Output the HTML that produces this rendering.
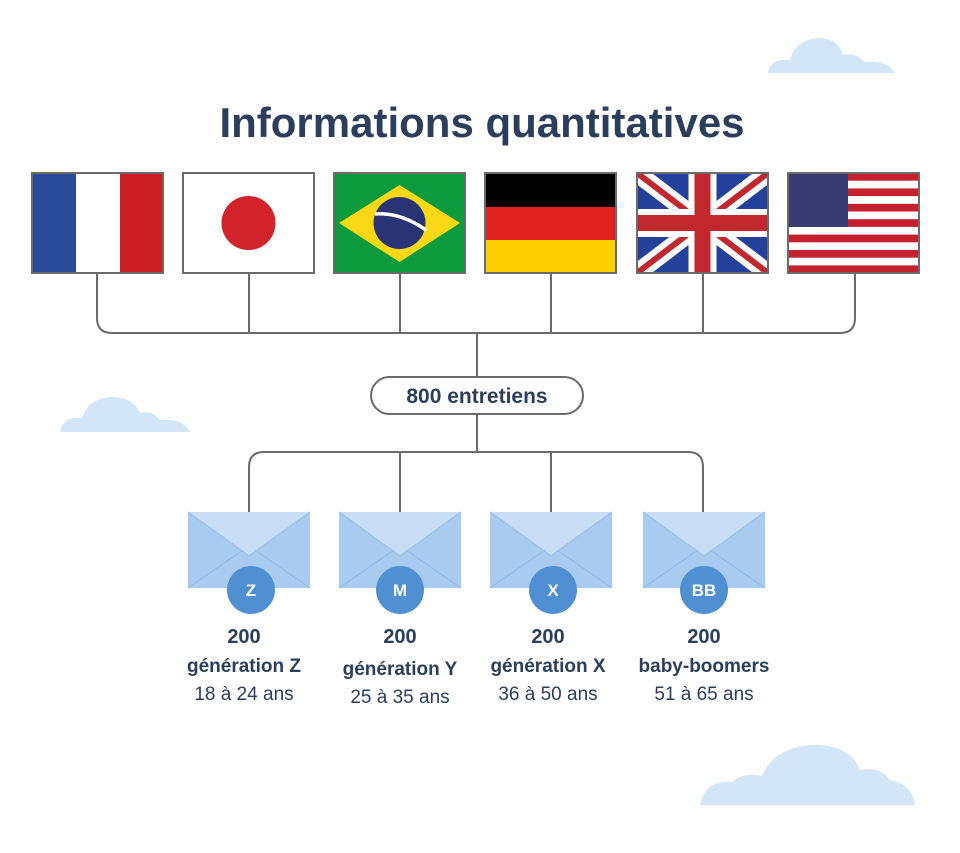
<!DOCTYPE html>
<html><head><meta charset="utf-8"><style>
html,body{margin:0;padding:0;background:#fff}
svg{display:block}
text{font-family:"Liberation Sans",sans-serif;fill:#2b3f5c}
</style></head><body>
<svg width="960" height="853" viewBox="0 0 960 853" xmlns="http://www.w3.org/2000/svg">
<defs>
<clipPath id="uk"><rect x="637" y="173" width="131" height="100"/></clipPath>
<g id="env">
<rect x="0" y="0" width="122" height="76" fill="#a9cbef"/>
<path d="M0 0 L61 44 L122 0 Z" fill="#c8def6"/>
<path d="M0 76 L55 38 M122 76 L67 38" stroke="#8fb8e6" stroke-width="1" fill="none"/>
<path d="M0 0 L61 44 L122 0" stroke="#9fc3ec" stroke-width="1.5" fill="none"/>
</g>
</defs>

<path d="M768 73 Q770 58 790 60 Q795 40 818 38 Q838 38 843 55 Q856 52 864 62 Q888 60 895 73 Z" fill="#d3e6f7"/>
<path d="M60 432 Q63 416 82 418 Q88 398 112 397 Q133 397 140 413 Q152 410 160 420 Q183 418 190 432 Z" fill="#d3e6f7"/>
<path d="M700 805 Q704 780 732 782 Q742 772 762 776 Q775 746 815 745 Q850 745 860 770 Q880 766 890 780 Q912 784 915 805 Z" fill="#d3e6f7"/>

<text x="482" y="137" font-size="42" font-weight="bold" text-anchor="middle">Informations quantitatives</text>

<g stroke="#6b6b6b" stroke-width="2" fill="none">
<path d="M97 273 V318 Q97 333 112 333 H840 Q855 333 855 318 V273"/>
<path d="M249 273 V333 M400 273 V333 M551 273 V333 M703 273 V333"/>
<path d="M477 333 V377 M477 414 V452"/>
<path d="M249 512 V467 Q249 452 264 452 H688 Q703 452 703 467 V512"/>
<path d="M400 452 V512 M551 452 V512"/>
</g>
<rect x="371" y="377" width="212" height="37" rx="18.5" fill="#fff" stroke="#6b6b6b" stroke-width="2"/>
<text x="477" y="403" font-size="21" font-weight="bold" text-anchor="middle">800 entretiens</text>

<rect x="32" y="173" width="44" height="100" fill="#2a4a9a"/>
<rect x="76" y="173" width="44" height="100" fill="#fff"/>
<rect x="120" y="173" width="43" height="100" fill="#cc1f24"/>
<rect x="32" y="173" width="131" height="100" fill="none" stroke="#6b6b6b" stroke-width="2"/>
<rect x="183" y="173" width="131" height="100" fill="#fff" stroke="#6b6b6b" stroke-width="2"/>
<circle cx="248.5" cy="223" r="27" fill="#d2232a"/>
<rect x="334" y="173" width="131" height="100" fill="#0c9a3c"/>
<path d="M339 223 L399.5 185 L460 223 L399.5 262 Z" fill="#fbd816"/>
<circle cx="399.5" cy="223" r="26" fill="#2a3475"/>
<path d="M375 214 Q400 212 426 230" stroke="#fff" stroke-width="3.5" fill="none"/>
<rect x="334" y="173" width="131" height="100" fill="none" stroke="#6b6b6b" stroke-width="2"/>
<rect x="485" y="173" width="131" height="34" fill="#000"/>
<rect x="485" y="207" width="131" height="33" fill="#e02321"/>
<rect x="485" y="240" width="131" height="33" fill="#ffcf00"/>
<rect x="485" y="173" width="131" height="100" fill="none" stroke="#6b6b6b" stroke-width="2"/>
<g clip-path="url(#uk)">
<rect x="637" y="173" width="131" height="100" fill="#23409a"/>
<path d="M637 173 L768 273 M768 173 L637 273" stroke="#fff" stroke-width="18"/>
<path d="M637 173 L768 273 M768 173 L637 273" stroke="#c0282d" stroke-width="6"/>
<path d="M702.5 173 V273 M637 223 H768" stroke="#fff" stroke-width="28"/>
<path d="M702.5 173 V273 M637 223 H768" stroke="#c0282d" stroke-width="16"/>
</g>
<rect x="637" y="173" width="131" height="100" fill="none" stroke="#6b6b6b" stroke-width="2"/>
<rect x="788" y="173" width="131" height="100" fill="#fff"/>
<g fill="#c5202e">
<rect x="788" y="173" width="131" height="7.7"/>
<rect x="788" y="188.4" width="131" height="7.7"/>
<rect x="788" y="203.8" width="131" height="7.7"/>
<rect x="788" y="219.2" width="131" height="7.7"/>
<rect x="788" y="234.6" width="131" height="7.7"/>
<rect x="788" y="250" width="131" height="7.7"/>
<rect x="788" y="265.4" width="131" height="7.7"/>
</g>
<rect x="788" y="173" width="60" height="54" fill="#3b3b74"/>
<rect x="788" y="173" width="131" height="100" fill="none" stroke="#6b6b6b" stroke-width="2"/>

<use href="#env" x="188" y="512"/>
<use href="#env" x="339" y="512"/>
<use href="#env" x="490" y="512"/>
<use href="#env" x="643" y="512"/>
<g fill="#4f8fd2">
<circle cx="251" cy="590" r="24"/>
<circle cx="400" cy="590" r="24"/>
<circle cx="553" cy="590" r="24"/>
<circle cx="704" cy="590" r="24"/>
</g>
<g font-size="17" font-weight="bold" text-anchor="middle">
<text x="251" y="596" style="fill:#fff">Z</text>
<text x="400" y="596" style="fill:#fff">M</text>
<text x="553" y="596" style="fill:#fff">X</text>
<text x="704" y="596" style="fill:#fff">BB</text>
</g>

<g text-anchor="middle" font-size="19">
<text x="244" y="643" font-weight="bold" font-size="20">200</text>
<text x="244" y="672" font-weight="bold">génération Z</text>
<text x="244" y="700">18 à 24 ans</text>
<text x="400" y="643" font-weight="bold" font-size="20">200</text>
<text x="400" y="675" font-weight="bold">génération Y</text>
<text x="400" y="703">25 à 35 ans</text>
<text x="548" y="643" font-weight="bold" font-size="20">200</text>
<text x="548" y="672" font-weight="bold">génération X</text>
<text x="548" y="700">36 à 50 ans</text>
<text x="704" y="643" font-weight="bold" font-size="20">200</text>
<text x="704" y="672" font-weight="bold">baby-boomers</text>
<text x="704" y="700">51 à 65 ans</text>
</g>
</svg>
</body></html>
